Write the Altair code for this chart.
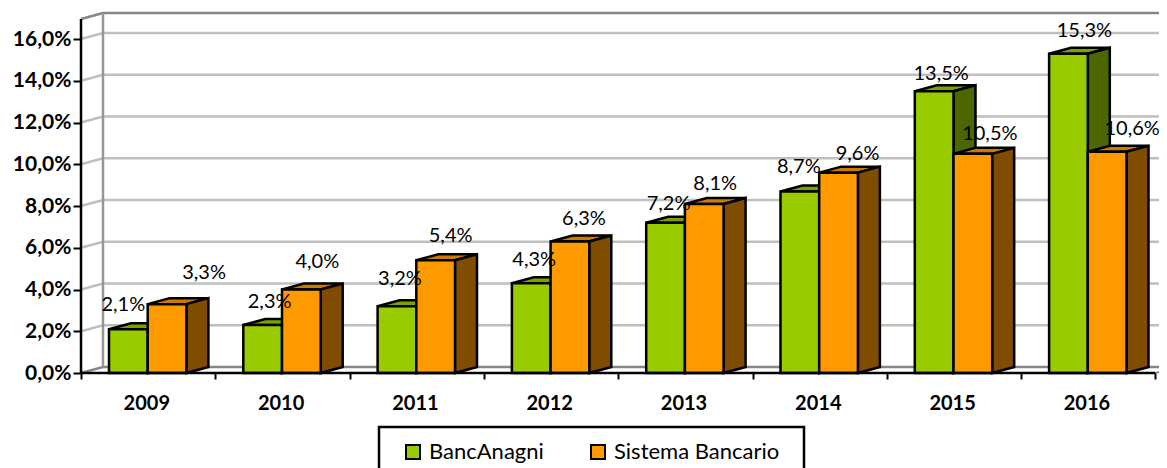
import altair as alt
import pandas as pd

years = ["2009", "2010", "2011", "2012", "2013", "2014", "2015", "2016"]
banc = [2.1, 2.3, 3.2, 4.3, 7.2, 8.7, 13.5, 15.3]
sistema = [3.3, 4.0, 5.4, 6.3, 8.1, 9.6, 10.5, 10.6]
series_names = ["BancAnagni", "Sistema Bancario"]
y_ticks = [0, 2, 4, 6, 8, 10, 12, 14, 16]
x_ticks = list(range(9))

# hand-placed data-label offsets from each bar's top centre, as in the original (px)
banc_label_dx = [-5, 7, 3, 3, 3, -1, 7, 16]
banc_label_up = [24, 23, 27, 23, 19, 24, 17, 23]
sistema_label_dx = [37, 16, 15, 14, 11, 19, 17, 25]
sistema_label_up = [31, 28, 24, 23, 20, 19, 20, 23]

# scale geometry
GROUP_PX = 134.3
VALUE_PX = 20.87
W, H = 1078, 360
X_MAX = W / GROUP_PX
Y_TOP = 16.96
Y_MAX = H / VALUE_PX
DX = 22 / GROUP_PX
DY = 6 / VALUE_PX
BAR = 38.7 / GROUP_PX
GAP = 28 / GROUP_PX
EDGE = 2.5

FONT = "Lato"
x_scale = alt.Scale(domain=[0, X_MAX], nice=False, zero=False)
y_scale = alt.Scale(domain=[0, Y_MAX], nice=False, zero=False)
X = alt.X("x:Q", scale=x_scale, axis=alt.Axis(values=x_ticks, labels=False, title=None, domain=False, grid=False,
                                               tickSize=6, tickWidth=2, tickColor="black"))
Y = alt.Y("y:Q", scale=y_scale, axis=alt.Axis(values=y_ticks, title=None, domain=False, grid=False,
                                               tickSize=8, tickWidth=2, tickColor="black", labelPadding=2,
                                               labelFont=FONT, labelFontSize=21, labelFontWeight="bold",
                                               labelColor="black",
                                               labelExpr="replace(format(datum.value,'.1f'),'.',',')+'%'"))

# back wall
def line_frame(values):
    rows = []
    for v in values:
        rows += [{"x": 0, "y": v, "g": v}, {"x": DX, "y": v + DY, "g": v}, {"x": X_MAX, "y": v + DY, "g": v}]
    return pd.DataFrame(rows)

grid = alt.Chart(line_frame(y_ticks[1:])).mark_line(color="#BFBFBF", strokeWidth=2.5).encode(x=X, y=Y, detail="g:N")
frame = alt.Chart(line_frame([0, Y_TOP])).mark_line(color="#868686", strokeWidth=2.5).encode(x=X, y=Y, detail="g:N")
wall_left = alt.Chart(pd.DataFrame({"x": [DX, DX], "y": [DY, Y_TOP + DY]})).mark_line(
    color="#969696", strokeWidth=2.5).encode(x=X, y=Y)
floor_right = alt.Chart(pd.DataFrame({"x": [8, 8 + DX], "y": [0, DY]})).mark_line(
    color="#868686", strokeWidth=2).encode(x=X, y=Y)

color_enc = alt.Color(
    "series:N",
    scale=alt.Scale(domain=series_names, range=["#99CC00", "#FF9900"]),
    legend=alt.Legend(orient="none", legendX=321, legendY=428, direction="horizontal", columns=2, title=None,
                      symbolType="square", symbolSize=196, symbolStrokeColor="black", symbolStrokeWidth=2,
                      labelFont=FONT, labelFontSize=22, labelColor="black", columnPadding=43,
                      padding=0, labelOffset=5, labelLimit=300),
)

def bar_layers(name, values, offset, top_col, side_col):
    front = pd.DataFrame({
        "x": [i + GAP + offset for i in range(8)],
        "x2": [i + GAP + offset + BAR for i in range(8)],
        "y": values, "y2": [0.0] * 8, "series": [name] * 8,
    })
    tops, sides = [], []
    for i, v in enumerate(values):
        L = i + GAP + offset
        tops += [
            {"x": L, "y": v, "y2": v, "g": i},
            {"x": L + DX, "y": v + DY, "y2": v, "g": i},
            {"x": L + BAR, "y": v + DY, "y2": v, "g": i},
            {"x": L + BAR + DX, "y": v + DY, "y2": v + DY, "g": i},
        ]
        sides += [
            {"x": L + BAR, "y": v, "y2": 0.0, "g": i},
            {"x": L + BAR + DX, "y": v + DY, "y2": DY, "g": i},
        ]
    return [
        alt.Chart(pd.DataFrame(tops)).mark_area(fill=top_col, stroke="black", strokeWidth=EDGE, opacity=1).encode(
            x=X, y=Y, y2="y2:Q", detail="g:N"),
        alt.Chart(pd.DataFrame(sides)).mark_area(fill=side_col, stroke="black", strokeWidth=EDGE, opacity=1).encode(
            x=X, y=Y, y2="y2:Q", detail="g:N"),
        alt.Chart(front).mark_rect(stroke="black", strokeWidth=EDGE).encode(
            x=X, x2="x2:Q", y=Y, y2="y2:Q", color=color_enc),
    ]

layers_banc = bar_layers(series_names[0], banc, 0.0, "#7AA300", "#4C6600")
layers_sist = bar_layers(series_names[1], sistema, BAR, "#CC7A00", "#7F4C00")

# front axis lines
front_axes = [
    alt.Chart(pd.DataFrame({"x": [0, 8], "y": [0, 0]})).mark_line(color="black", strokeWidth=2.5).encode(x=X, y=Y),
    alt.Chart(pd.DataFrame({"x": [0, 0], "y": [0, Y_TOP]})).mark_line(color="black", strokeWidth=2.5).encode(x=X, y=Y),
]

# category labels
year_layer = alt.Chart(pd.DataFrame({"x": [i + 0.49 for i in range(8)], "t": years})).mark_text(
    font=FONT, fontSize=20, fontWeight="bold", color="black", baseline="middle").encode(
    x=X, y=alt.value(391), text="t:N")

# legend frame (runs off the bottom of the page, as in the original)
legend_box = alt.Chart(pd.DataFrame({"a": [0]})).mark_rect(fill="white", stroke="black", strokeWidth=2.5).encode(
    x=alt.value(298), x2=alt.value(723), y=alt.value(414), y2=alt.value(480))

# data labels
def label_frame(values, offset, dxs, ups):
    return pd.DataFrame({
        "x": [i + GAP + offset + BAR / 2 + dxs[i] / GROUP_PX for i in range(8)],
        "y": [v + ups[i] / VALUE_PX for i, v in enumerate(values)],
        "t": [f"{v:.1f}".replace(".", ",") + "%" for v in values],
    })

labels = pd.concat([
    label_frame(banc, 0.0, banc_label_dx, banc_label_up),
    label_frame(sistema, BAR, sistema_label_dx, sistema_label_up),
])
label_layer = alt.Chart(labels).mark_text(font=FONT, fontSize=20, color="black", baseline="middle").encode(
    x=X, y=Y, text="t:N")

chart = alt.layer(
    legend_box, grid, frame, wall_left, floor_right,
    *layers_banc, *layers_sist, *front_axes, year_layer, label_layer,
).properties(
    width=W, height=H,
    autosize=alt.AutoSizeParams(type="none"),
    padding={"left": 73, "top": 5, "right": 0, "bottom": 95},
    background="white",
).configure_view(stroke=None)

chart.save("out.html", embed_options={"renderer": "svg", "actions": False})
